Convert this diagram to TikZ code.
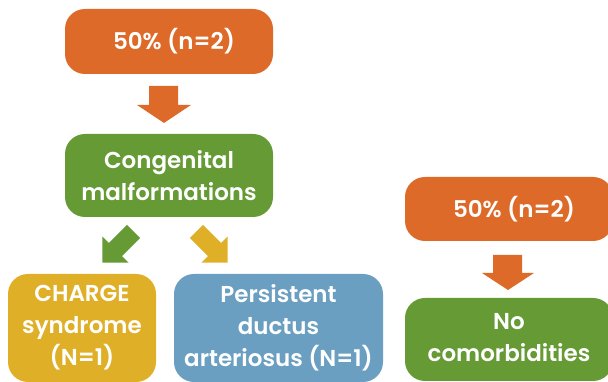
\documentclass[tikz,border=0pt]{standalone}
\usepackage{fontspec}
\setmainfont{Poppins}[BoldFont={Poppins SemiBold}]
\definecolor{cOrange}{HTML}{DD6A29}
\definecolor{cGreen}{HTML}{659A34}
\definecolor{cYellow}{HTML}{E0AF28}
\definecolor{cBlue}{HTML}{6A9FC2}
\begin{document}
\begin{tikzpicture}[x=1pt,y=1pt,
  box/.style={rounded corners=20pt, text=white, align=center, inner sep=0pt,
    font=\fontsize{23}{32}\selectfont\bfseries}]
\useasboundingbox (0,0) rectangle (608,382);
\clip (0,0) rectangle (608,382);
% boxes
\node[box, fill=cOrange, minimum width=208pt, minimum height=65pt] (top) at (169,340.5) {\hspace*{10pt}50\% (n=2)};
\node[box, fill=cGreen, minimum width=208pt, minimum height=83pt] (cong) at (169,206.5) {Congenital\\malformations};
\node[box, fill=cYellow, minimum width=148pt, minimum height=108pt] (charge) at (82,54) {CHARGE\\syndrome\\(N=1)};
\node[box, fill=cBlue, minimum width=209pt, minimum height=108pt] (pda) at (278.5,54) {Persistent\\ductus\\arteriosus (N=1)};
\node[box, fill=cOrange, minimum width=208pt, minimum height=64pt] (right) at (509,173) {\hspace*{10pt}50\% (n=2)};
\node[box, fill=cGreen, minimum width=208pt, minimum height=83pt] (none) at (509,42.5) {\raisebox{3.5pt}{\begin{tabular}{@{}c@{}}No\\comorbidities\end{tabular}}};
% block arrows
\fill[cOrange] (149,296) -- (178,296) -- (178,277) -- (191,277) -- (164,259) -- (137,277) -- (149,277) -- cycle;
\fill[cOrange] (493,127) -- (522,127) -- (522,109) -- (534,109) -- (508,92) -- (482,109) -- (493,109) -- cycle;
\begin{scope}[shift={(133.5,150.5)}, rotate=-45]
  \fill[cGreen] (-9.2,0) -- (9.2,0) -- (9.2,-25.5) -- (18.5,-25.5) -- (0,-44) -- (-18.5,-25.5) -- (-9.2,-25.5) -- cycle;
\end{scope}
\begin{scope}[shift={(196.5,150.5)}, rotate=45]
  \fill[cYellow] (-9.2,0) -- (9.2,0) -- (9.2,-25.5) -- (18.5,-25.5) -- (0,-44) -- (-18.5,-25.5) -- (-9.2,-25.5) -- cycle;
\end{scope}
\end{tikzpicture}
\end{document}
